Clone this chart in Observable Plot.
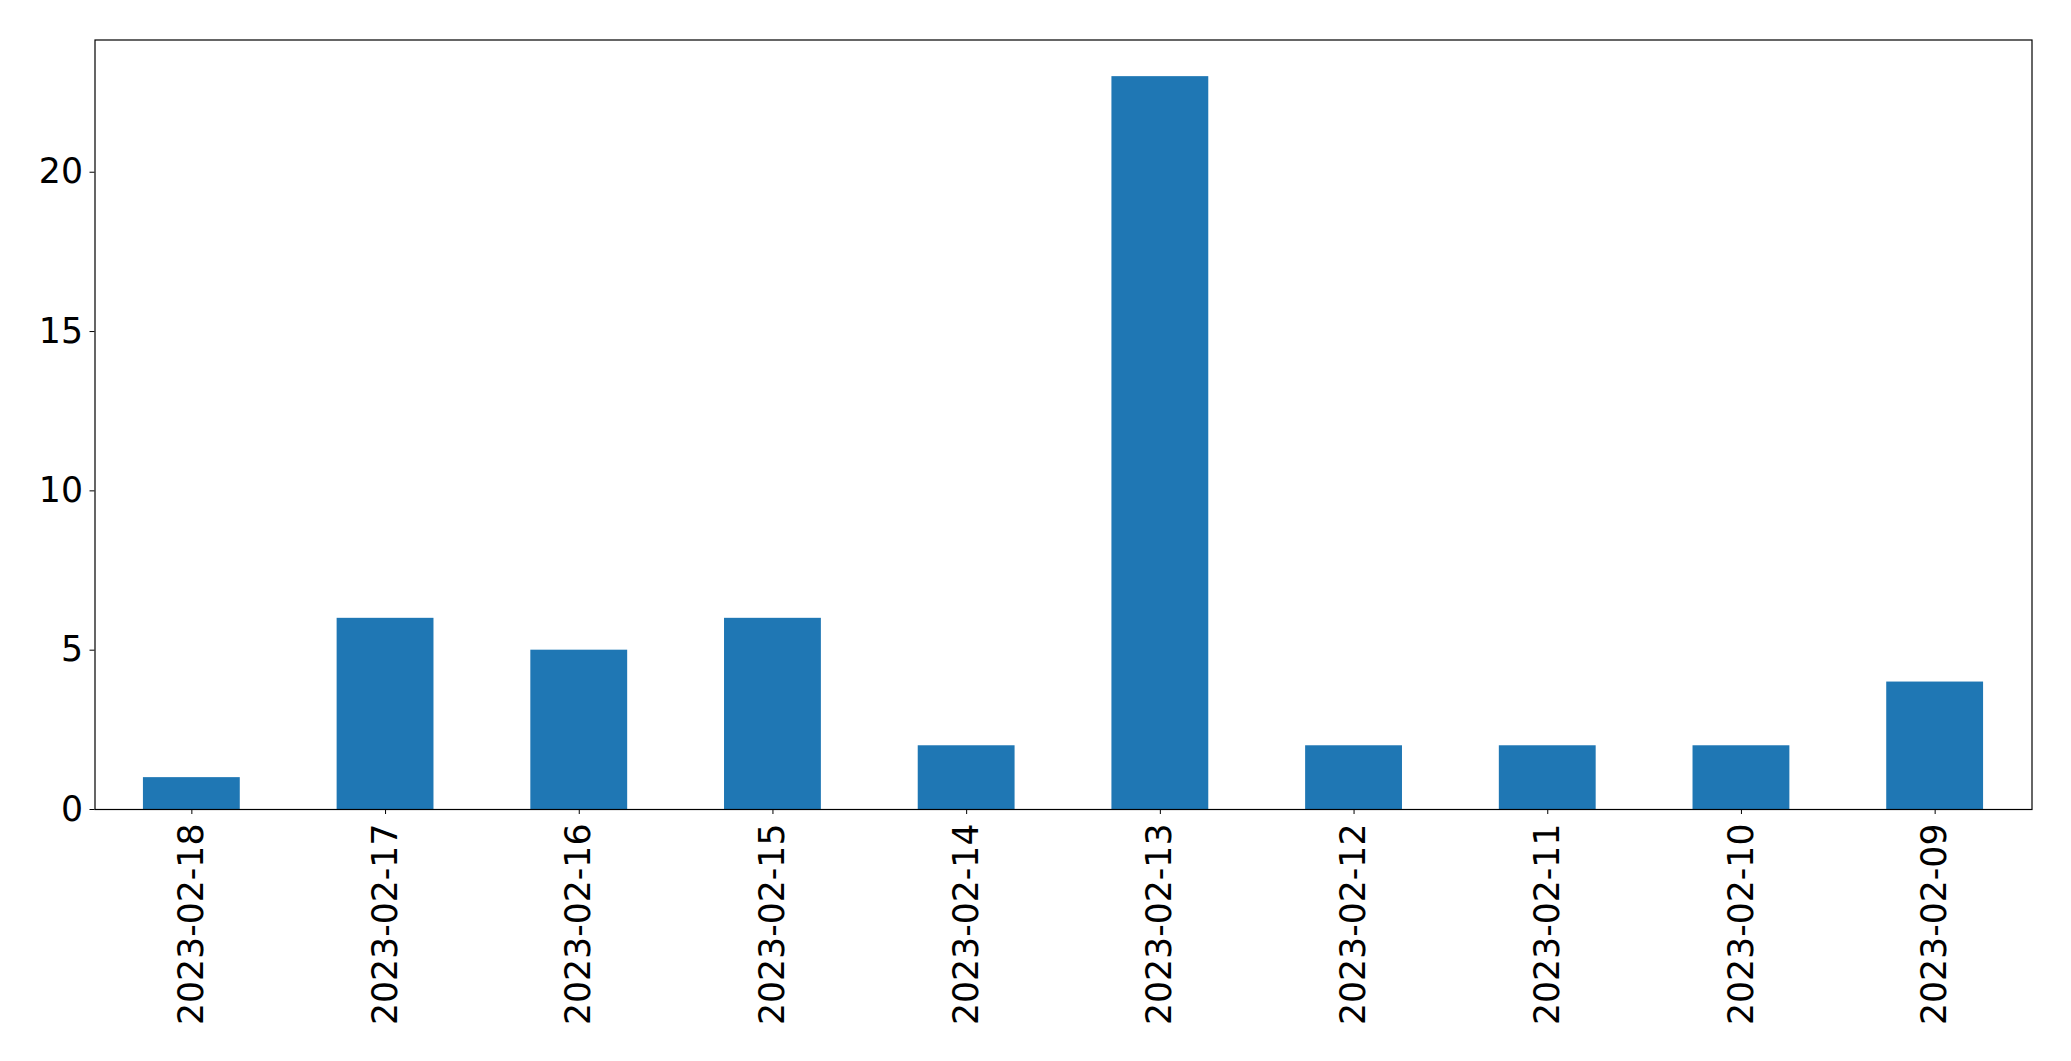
<!DOCTYPE html>
<html>
<head>
<meta charset="utf-8">
<script src="https://cdn.jsdelivr.net/npm/d3@7"></script>
<script src="https://cdn.jsdelivr.net/npm/@observablehq/plot@0.6"></script>
<style>
  html, body { margin: 0; padding: 0; background: #fff; }
  #chart svg { display: block; }
</style>
</head>
<body>
<div id="chart"></div>
<script>
const dates = ["2023-02-18", "2023-02-17", "2023-02-16", "2023-02-15", "2023-02-14",
               "2023-02-13", "2023-02-12", "2023-02-11", "2023-02-10", "2023-02-09"];
const counts = [1, 6, 5, 6, 2, 23, 2, 2, 2, 4];
const yTicks = [0, 5, 10, 15, 20];

const data = dates.map((d, i) => ({date: d, count: counts[i]}));

const chart = Plot.plot({
  width: 2071,
  height: 1061,
  marginLeft: 94.5,
  marginRight: 39.5,
  marginTop: 39.5,
  marginBottom: 252,
  style: {fontFamily: "DejaVu Sans", fontSize: "34.7px", color: "#000", background: "#fff"},
  x: {domain: dates, paddingInner: 0.5, paddingOuter: 0.25, align: 0.5, round: false, label: null},
  y: {domain: [0, 24.15], label: null},
  marks: [
    Plot.barY(data, {x: "date", y: "count", fill: "#1f77b4"}),
    Plot.frame({stroke: "#000", strokeWidth: 1.2}),
    Plot.axisY({ticks: yTicks, tickSize: 5, tickPadding: 7, label: null, fontSize: 34.7, tickFormat: d3.format("d")}),
    Plot.axisX({tickSize: 5, tickPadding: 9, tickRotate: -90, label: null, fontSize: 34.7})
  ]
});
document.getElementById("chart").appendChild(chart);
</script>
</body>
</html>
